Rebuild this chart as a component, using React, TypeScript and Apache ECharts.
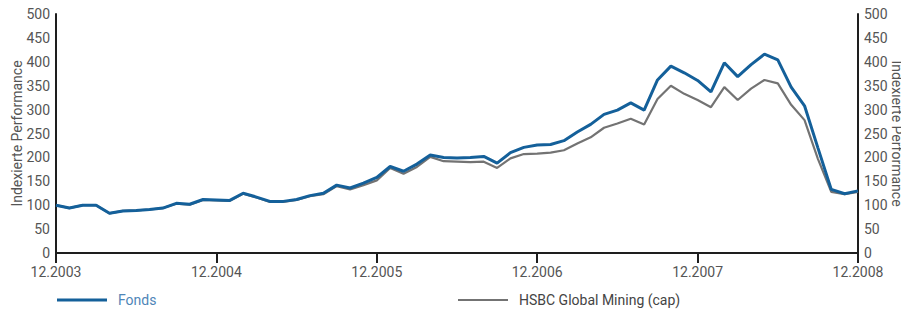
import React, { useEffect, useRef } from "react";
import * as echarts from "echarts";

const startYear = 2003;
const monthCount = 61;
const categories: string[] = [];
for (let i = 0; i < monthCount; i++) {
  const m = ((11 + i) % 12) + 1;
  const y = startYear + Math.floor((11 + i) / 12);
  categories.push(`${m < 10 ? "0" + m : m}.${y}`);
}

const fonds = [
  100, 94, 100, 100, 83, 88, 89, 91, 94, 104, 102, 112, 111, 110, 125, 117, 108, 108, 112, 120,
  125, 142, 136, 146, 158, 181, 171, 186, 205, 200, 199, 200, 202, 188, 210, 221, 226, 227, 235, 253,
  269, 290, 299, 314, 299, 362, 391, 377, 361, 337, 398, 369, 394, 416, 404, 347, 308, 220, 133, 124,
  130,
];

const hsbc = [
  100, 94, 100, 100, 83, 88, 89, 91, 94, 103, 101, 111, 110, 109, 124, 116, 107, 107, 111, 119,
  123, 140, 133, 142, 152, 178, 166, 180, 201, 192, 191, 190, 191, 178, 198, 207, 208, 210, 215, 229,
  242, 262, 271, 281, 269, 322, 350, 333, 320, 305, 347, 320, 344, 362, 355, 310, 278, 197, 128, 123,
  128,
];

const seriesNames = ["Fonds", "HSBC Global Mining (cap)"];
const axisName = "Indexierte Performance";

const FONT = "Roboto";
const BLUE = "#14609a";
const GRAY = "#737373";
const LABEL = "#555555";
const AXIS = "#1e1e1e";

export default function App() {
  const ref = useRef<HTMLDivElement>(null);
  useEffect(() => {
    if (!ref.current) return;
    const chart = echarts.init(ref.current, undefined, { renderer: "svg" });
    const yAxisCommon = {
      type: "value" as const,
      min: 0,
      max: 500,
      interval: 50,
      splitLine: { show: false },
      axisTick: { show: false },
      axisLine: { show: true, lineStyle: { color: AXIS, width: 2 } },
      axisLabel: { color: LABEL, fontSize: 14, fontFamily: FONT, margin: 6 },
      name: axisName,
      nameLocation: "middle" as const,
      nameMoveOverlap: false,
      nameTextStyle: { color: LABEL, fontSize: 14, fontFamily: FONT },
    };
    chart.setOption({
      animation: false,
      textStyle: { fontFamily: FONT },
      grid: { left: 56, right: 43, top: 14, bottom: 56, containLabel: false, outerBoundsMode: "none" },
      legend: [
        {
          data: [{ name: seriesNames[0], textStyle: { color: "#4f86b8" } }],
          left: 57,
          top: 293,
          padding: 0,
          icon: "rect",
          itemWidth: 50,
          itemHeight: 3,
          itemGap: 0,
          textStyle: { fontSize: 14, fontFamily: FONT, padding: [0, 0, 0, 6] },
        },
        {
          data: [{ name: seriesNames[1], textStyle: { color: "#444444" } }],
          left: 458,
          top: 293,
          padding: 0,
          icon: "rect",
          itemWidth: 50,
          itemHeight: 2,
          itemGap: 0,
          textStyle: { fontSize: 14, fontFamily: FONT, padding: [0, 0, 0, 6] },
        },
      ],
      xAxis: {
        type: "category",
        data: categories,
        boundaryGap: false,
        axisLine: { lineStyle: { color: AXIS, width: 2 } },
        axisTick: { show: true, interval: 11, length: 10, lineStyle: { color: AXIS, width: 2 } },
        axisLabel: { interval: 11, color: LABEL, fontSize: 14, fontFamily: FONT, margin: 12 },
        splitLine: { show: false },
      },
      yAxis: [
        { ...yAxisCommon, position: "left", nameGap: 32, nameRotate: 90 },
        { ...yAxisCommon, position: "right", nameGap: 32, nameRotate: -90 },
      ],
      series: [
        {
          name: seriesNames[1],
          type: "line",
          data: hsbc,
          symbol: "none",
          lineStyle: { color: GRAY, width: 2.2 },
          itemStyle: { color: GRAY },
          z: 2,
        },
        {
          name: seriesNames[0],
          type: "line",
          data: fonds,
          symbol: "none",
          lineStyle: { color: BLUE, width: 3 },
          itemStyle: { color: BLUE },
          z: 3,
        },
      ],
    });
    return () => chart.dispose();
  }, []);
  return <div ref={ref} style={{ width: 901, height: 309, position: "absolute", left: 0, top: 0 }} />;
}
